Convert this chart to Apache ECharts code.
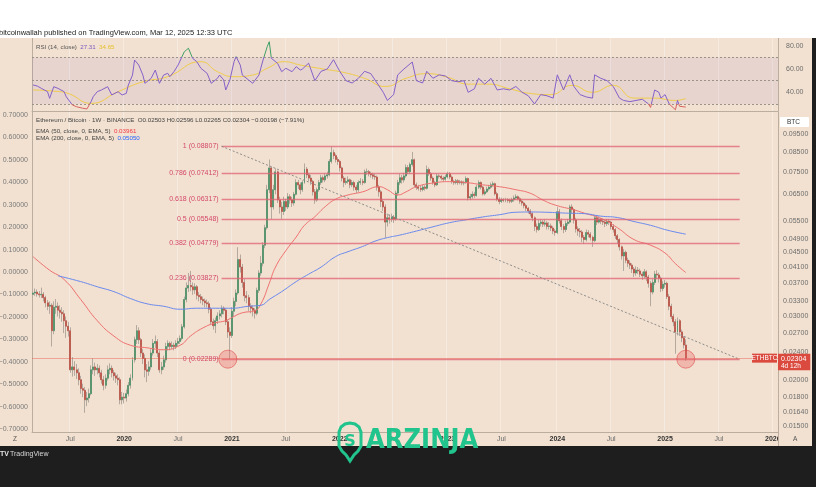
<!DOCTYPE html>
<html><head><meta charset="utf-8">
<script src="https://cdn.jsdelivr.net/npm/echarts@6/dist/echarts.min.js"></script>
<style>html,body{margin:0;padding:0;background:#fff;}#c{width:816px;height:487px;}</style>
</head><body><div id="c"></div>
<script>
// ---------- DATA (weekly ETH/BTC) ----------
const startWeek = '2019-02-25';
const totalWeeks = 360;           // 316 candles + empty future space
const firstOpen = 0.0345;
const closes = [
0.0348,0.0350,0.0346,0.0344,0.0345,0.0338,0.0327,0.0320,0.0322,0.0274,
0.0318,0.0320,0.0312,0.0308,0.0305,0.0292,0.0282,0.0274,0.0214,0.0218,
0.0214,0.0210,0.0201,0.0190,0.0188,0.0177,0.0179,0.0184,0.0214,0.0218,
0.0214,0.0216,0.0210,0.0201,0.0194,0.0203,0.0214,0.0216,0.0210,0.0206,
0.0203,0.0201,0.0177,0.0180,0.0179,0.0184,0.0194,0.0203,0.0228,0.0259,
0.0274,0.0259,0.0238,0.0230,0.0214,0.0212,0.0218,0.0238,0.0253,0.0256,
0.0238,0.0214,0.0218,0.0228,0.0248,0.0253,0.0248,0.0250,0.0248,0.0253,
0.0256,0.0261,0.0281,0.0334,0.0359,0.0365,0.0362,0.0355,0.0362,0.0343,
0.0340,0.0334,0.0331,0.0327,0.0325,0.0314,0.0290,0.0283,0.0292,0.0301,
0.0305,0.0316,0.0312,0.0290,0.0272,0.0266,0.0310,0.0330,0.0348,0.0430,
0.0410,0.0372,0.0342,0.0338,0.0320,0.0316,0.0312,0.0306,0.0354,0.0395,
0.0420,0.0471,0.0526,0.0669,0.0768,0.0600,0.0669,0.0749,0.0627,0.0600,
0.0583,0.0621,0.0600,0.0640,0.0627,0.0615,0.0650,0.0700,0.0690,0.0669,
0.0700,0.0762,0.0735,0.0720,0.0705,0.0660,0.0627,0.0669,0.0700,0.0722,
0.0712,0.0730,0.0735,0.0800,0.0846,0.0830,0.0810,0.0800,0.0768,0.0720,
0.0700,0.0705,0.0712,0.0690,0.0700,0.0680,0.0669,0.0700,0.0705,0.0700,
0.0749,0.0750,0.0740,0.0735,0.0728,0.0725,0.0680,0.0660,0.0621,0.0600,
0.0545,0.0560,0.0556,0.0562,0.0556,0.0655,0.0700,0.0722,0.0712,0.0730,
0.0770,0.0750,0.0785,0.0809,0.0690,0.0680,0.0675,0.0670,0.0680,0.0675,
0.0760,0.0740,0.0720,0.0700,0.0690,0.0730,0.0728,0.0720,0.0715,0.0725,
0.0740,0.0725,0.0705,0.0700,0.0708,0.0700,0.0703,0.0698,0.0700,0.0718,
0.0635,0.0640,0.0650,0.0645,0.0680,0.0700,0.0680,0.0652,0.0660,0.0672,
0.0680,0.0690,0.0695,0.0652,0.0630,0.0621,0.0628,0.0625,0.0628,0.0625,
0.0622,0.0628,0.0635,0.0640,0.0632,0.0622,0.0615,0.0605,0.0595,0.0585,
0.0575,0.0560,0.0530,0.0520,0.0540,0.0545,0.0538,0.0542,0.0530,0.0532,
0.0525,0.0515,0.0510,0.0582,0.0550,0.0530,0.0520,0.0540,0.0545,0.0600,
0.0590,0.0552,0.0522,0.0515,0.0512,0.0495,0.0488,0.0510,0.0505,0.0495,
0.0485,0.0560,0.0545,0.0555,0.0548,0.0545,0.0540,0.0548,0.0545,0.0530,
0.0520,0.0500,0.0488,0.0466,0.0440,0.0450,0.0428,0.0420,0.0415,0.0405,
0.0395,0.0402,0.0400,0.0392,0.0388,0.0398,0.0385,0.0370,0.0350,0.0372,
0.0392,0.0390,0.0382,0.0358,0.0368,0.0370,0.0340,0.0320,0.0300,0.0290,
0.0272,0.0292,0.0272,0.0262,0.02503,0.02304];
const highs = [
0.0356,0.0358,0.0356,0.0352,0.0360,0.0350,0.0342,0.0333,0.0330,0.0326,
0.0330,0.0335,0.0328,0.0322,0.0318,0.0312,0.0300,0.0290,0.0280,0.0232,
0.0226,0.0222,0.0216,0.0206,0.0196,0.0192,0.0186,0.0190,0.0220,0.0230,
0.0224,0.0222,0.0220,0.0214,0.0206,0.0208,0.0220,0.0223,0.0220,0.0214,
0.0210,0.0208,0.0204,0.0186,0.0185,0.0189,0.0198,0.0208,0.0232,0.0264,
0.0284,0.0280,0.0262,0.0244,0.0236,0.0222,0.0226,0.0244,0.0260,0.0266,
0.0260,0.0242,0.0225,0.0234,0.0254,0.0258,0.0256,0.0256,0.0254,0.0258,
0.0262,0.0266,0.0286,0.0340,0.0372,0.0395,0.0400,0.0372,0.0370,0.0366,
0.0350,0.0346,0.0340,0.0336,0.0334,0.0330,0.0318,0.0296,0.0298,0.0308,
0.0312,0.0322,0.0320,0.0316,0.0294,0.0280,0.0318,0.0338,0.0356,0.0465,
0.0444,0.0418,0.0380,0.0352,0.0344,0.0326,0.0322,0.0316,0.0360,0.0402,
0.0440,0.0480,0.0536,0.0690,0.0810,0.0775,0.0690,0.0765,0.0755,0.0640,
0.0620,0.0640,0.0632,0.0655,0.0650,0.0640,0.0660,0.0715,0.0712,0.0700,
0.0710,0.0790,0.0772,0.0745,0.0735,0.0712,0.0672,0.0678,0.0712,0.0735,
0.0732,0.0742,0.0750,0.0812,0.0881,0.0862,0.0840,0.0822,0.0808,0.0775,
0.0730,0.0722,0.0728,0.0718,0.0712,0.0708,0.0690,0.0710,0.0720,0.0716,
0.0760,0.0765,0.0758,0.0750,0.0745,0.0740,0.0732,0.0690,0.0668,0.0630,
0.0610,0.0575,0.0572,0.0575,0.0570,0.0665,0.0712,0.0740,0.0735,0.0745,
0.0785,0.0782,0.0795,0.0850,0.0815,0.0700,0.0690,0.0685,0.0690,0.0688,
0.0780,0.0770,0.0748,0.0728,0.0708,0.0740,0.0738,0.0735,0.0728,0.0735,
0.0750,0.0748,0.0732,0.0712,0.0716,0.0715,0.0712,0.0710,0.0708,0.0728,
0.0722,0.0652,0.0662,0.0660,0.0690,0.0710,0.0705,0.0685,0.0670,0.0682,
0.0690,0.0700,0.0705,0.0700,0.0660,0.0638,0.0636,0.0634,0.0636,0.0634,
0.0632,0.0636,0.0645,0.0650,0.0645,0.0638,0.0628,0.0620,0.0612,0.0600,
0.0592,0.0580,0.0565,0.0540,0.0552,0.0555,0.0552,0.0555,0.0548,0.0545,
0.0540,0.0532,0.0522,0.0600,0.0592,0.0558,0.0538,0.0550,0.0556,0.0608,
0.0610,0.0595,0.0560,0.0530,0.0525,0.0518,0.0502,0.0520,0.0518,0.0512,
0.0500,0.0570,0.0568,0.0565,0.0560,0.0558,0.0552,0.0556,0.0555,0.0550,
0.0538,0.0525,0.0505,0.0492,0.0470,0.0460,0.0455,0.0435,0.0428,0.0420,
0.0410,0.0412,0.0410,0.0406,0.0398,0.0405,0.0402,0.0390,0.0375,0.0380,
0.0400,0.0402,0.0396,0.0386,0.0376,0.0378,0.0374,0.0346,0.0325,0.0305,
0.0295,0.0298,0.0295,0.0276,0.0265,0.02596];
const lows = [
0.0338,0.0342,0.0340,0.0338,0.0337,0.0330,0.0318,0.0312,0.0305,0.0248,
0.0268,0.0305,0.0300,0.0296,0.0290,0.0270,0.0262,0.0264,0.0210,0.0205,
0.0206,0.0202,0.0194,0.0184,0.0180,0.0163,0.0170,0.0174,0.0182,0.0208,
0.0206,0.0208,0.0204,0.0196,0.0188,0.0190,0.0200,0.0208,0.0204,0.0200,
0.0197,0.0194,0.0172,0.0172,0.0173,0.0175,0.0181,0.0190,0.0200,0.0224,
0.0252,0.0252,0.0232,0.0222,0.0204,0.0198,0.0206,0.0214,0.0234,0.0246,
0.0232,0.0210,0.0208,0.0214,0.0224,0.0242,0.0242,0.0244,0.0242,0.0244,
0.0248,0.0252,0.0258,0.0278,0.0328,0.0350,0.0352,0.0344,0.0346,0.0334,
0.0330,0.0326,0.0322,0.0318,0.0318,0.0306,0.0284,0.0276,0.0270,0.0286,
0.0294,0.0298,0.0304,0.0284,0.0262,0.02289,0.0262,0.0300,0.0320,0.0344,
0.0396,0.0360,0.0330,0.0326,0.0310,0.0306,0.0300,0.0296,0.0302,0.0348,
0.0388,0.0412,0.0462,0.0520,0.0655,0.0556,0.0590,0.0650,0.0615,0.0575,
0.0556,0.0570,0.0585,0.0592,0.0612,0.0600,0.0605,0.0645,0.0672,0.0650,
0.0660,0.0695,0.0720,0.0705,0.0690,0.0645,0.0612,0.0620,0.0660,0.0690,
0.0700,0.0702,0.0718,0.0728,0.0790,0.0812,0.0795,0.0782,0.0750,0.0705,
0.0680,0.0690,0.0695,0.0675,0.0680,0.0665,0.0655,0.0660,0.0690,0.0688,
0.0695,0.0735,0.0728,0.0722,0.0715,0.0712,0.0665,0.0640,0.0600,0.0585,
0.0493,0.0530,0.0540,0.0545,0.0542,0.0550,0.0645,0.0690,0.0695,0.0700,
0.0722,0.0738,0.0740,0.0775,0.0680,0.0668,0.0665,0.0660,0.0662,0.0665,
0.0670,0.0730,0.0708,0.0690,0.0680,0.0685,0.0718,0.0710,0.0705,0.0708,
0.0718,0.0715,0.0695,0.0690,0.0692,0.0690,0.0692,0.0688,0.0688,0.0695,
0.0625,0.0626,0.0632,0.0635,0.0640,0.0672,0.0670,0.0645,0.0645,0.0655,
0.0665,0.0672,0.0682,0.0645,0.0622,0.0610,0.0615,0.0618,0.0618,0.0616,
0.0614,0.0615,0.0620,0.0628,0.0625,0.0612,0.0605,0.0595,0.0585,0.0575,
0.0565,0.0548,0.0515,0.0510,0.0515,0.0530,0.0528,0.0530,0.0520,0.0520,
0.0515,0.0505,0.0500,0.0505,0.0540,0.0518,0.0508,0.0512,0.0532,0.0540,
0.0575,0.0540,0.0510,0.0500,0.0495,0.0480,0.0475,0.0482,0.0495,0.0485,
0.0466,0.0480,0.0535,0.0540,0.0538,0.0535,0.0528,0.0532,0.0535,0.0520,
0.0510,0.0490,0.0475,0.0455,0.0430,0.0400,0.0420,0.0410,0.0405,0.0395,
0.0385,0.0388,0.0392,0.0385,0.0378,0.0382,0.0375,0.0360,0.0320,0.0345,
0.0366,0.0380,0.0372,0.0350,0.0352,0.0360,0.0335,0.0312,0.0295,0.0282,
0.0237,0.0266,0.0265,0.0255,0.0245,0.02265];

const ema50Weeks = [0,8,15,23,31,39,47,55,63,71,76,82,88,93,96,101,107,110,114,117,122,127,131,136,141,146,152,159,167,171,176,180,185,193,201,209,217,225,233,240,246,252,261,266,274,282,290,298,305,310,315];
const ema50Vals  = [0.0438,0.0402,0.0379,0.0334,0.0292,0.0265,0.0250,0.0246,0.0243,0.0250,0.0265,0.0279,0.0288,0.0292,0.0298,0.0307,0.0311,0.0325,0.0370,0.0410,0.0455,0.0496,0.0534,0.0564,0.0601,0.0630,0.0647,0.0660,0.0682,0.0669,0.0647,0.0660,0.0682,0.0698,0.0704,0.0700,0.0690,0.0682,0.0669,0.0654,0.0627,0.0607,0.0589,0.0577,0.0558,0.0526,0.0488,0.0471,0.0448,0.0419,0.03961];
const ema200Weeks = [12,23,31,39,47,55,63,71,79,90,96,104,110,114,120,127,133,139,146,152,159,165,171,177,185,193,201,209,217,225,233,240,248,257,266,274,282,290,298,306,315];
const ema200Vals  = [0.0388,0.0374,0.0362,0.0351,0.0336,0.0325,0.0320,0.0314,0.0316,0.0316,0.0316,0.0320,0.0322,0.0334,0.0351,0.0374,0.0392,0.0410,0.0438,0.0452,0.0467,0.0483,0.0494,0.0502,0.0515,0.0529,0.0543,0.0553,0.0563,0.0571,0.0580,0.0581,0.0580,0.0577,0.0575,0.0566,0.0561,0.0547,0.0534,0.0518,0.0505];

// RSI(14) and its moving average
const rsiWeeks = [0,2,4,7,8,10,12,15,16,19,21,24,26,28,29,31,33,36,38,41,43,45,46,48,49,51,53,54,56,57,59,61,63,65,66,68,70,73,74,75,77,79,81,84,86,89,90,92,93,95,97,98,100,101,104,106,109,111,113,114,115,118,120,122,125,127,129,
 130,133,136,139,142,145,148,151,154,157,160,163,166,169,171,174,176,179,183,185,188,190,193,196,199,202,205,208,210,213,215,218,221,224,227,230,233,236,239,242,245,248,251,253,256,259,261,264,267,270,271,274,277,280,283,285,288,291,294,297,298,300,302,303,305,307,310,311,312,315];
const rsiVals = [46.3,45.4,43.4,40.5,34.8,44.8,43.4,40.5,36.2,29.1,27.6,26.3,25.7,31.9,36.2,40.5,42,44.8,37.7,40.5,37.7,39.1,46.3,54.8,67.7,63.4,54.8,47.7,50.6,52,59.1,47.7,54.8,56.3,53.4,57.7,63.4,74.8,76.3,77.8,69.2,66.3,60.6,56.3,47.7,52,54.8,50.6,42,50.6,66.3,70.6,63.4,54.8,50.6,47.7,54.8,67.7,79.1,83.4,69.2,64.9,57.7,60.6,57.7,62,59.1,
 60,65,50,58,60,68,58,50,48,52,58,56,48,40,33,38,55,60,66,50,48,58,52,55,54,50,49,50,40,43,52,47,52,42,43,42,45,40,37,30,38,37,35,55,42,55,45,38,36,35,55,52,50,45,35,33,32,33,34,30,27,42,40,35,38,30,25,33,28,27.31];
const rsiMaWeeks = [0,10,17,28,41,53,65,81,89,97,106,113,121,129,140,150,160,170,180,190,200,210,220,230,240,250,260,270,280,290,300,310,315];
const rsiMaVals  = [42,41,39,30.5,40.5,49,53.4,66.3,57.7,53.4,54.8,60.6,66.3,63.4,60,57,52,45,52,56,53,47,47,43,39,38,46,40,46,35,35,33,34.65];

// Fibonacci retracement drawn on the chart
const fibRatios = ['1','0.786','0.618','0.5','0.382','0.236','0'];
const fibPrices = [0.08807,0.07412,0.06317,0.05548,0.04779,0.03827,0.02289];
const fibStartWeek = 91, fibEndWeek = 341;
const lastPrice = 0.02304;

// Axis tick labels
const priceTicks = [0.095,0.085,0.075,0.065,0.055,0.049,0.045,0.041,0.037,0.033,0.030,0.027,0.024,0.020,0.018,0.0164,0.015];
const leftTicks = [0.7,0.6,0.5,0.4,0.3,0.2,0.1,0,-0.1,-0.2,-0.3,-0.4,-0.5,-0.6,-0.7];
const rsiTicks = [40,60,80];

// ---------- BUILD ----------
const L = Math.log;
const FONT = '"Liberation Sans", Arial, sans-serif';
const BEIGE = '#f2e1d0';
const cats = [], tickLabel = [];
const t0 = Date.parse(startWeek + 'T00:00:00Z');
for (let i = 0; i < totalWeeks; i++) {
  const d = new Date(t0 + i * 7 * 864e5), e = new Date(t0 + (i * 7 + 6) * 864e5);
  cats.push(d.toISOString().slice(0, 10));
  let lab = '';
  if (e.getUTCDate() <= 7 && (e.getUTCMonth() === 0 || e.getUTCMonth() === 6))
    lab = e.getUTCMonth() === 0 ? String(e.getUTCFullYear()) : 'Jul';
  tickLabel.push(lab);
}
const wickData = [], bodyData = [];
for (let i = 0; i < closes.length; i++) {
  const o = i === 0 ? firstOpen : closes[i - 1], c = closes[i];
  wickData.push([L(o), L(c), L(lows[i]), L(highs[i])]);
  bodyData.push([L(o), L(c), L(Math.min(o, c)), L(Math.max(o, c))]);
}
const pairs = (w, v, f) => w.map((x, k) => [x, f ? f(v[k]) : v[k]]);

const yMin = L(0.014438), yMax = L(0.1094);
const sepColor = '#bcae9f';
const fibLineColor = 'rgba(224,96,112,0.75)';
const fibTextColor = '#d4486c';

const fibMarks = fibPrices.map((p, k) => [
  { coord: [fibStartWeek, L(p)], lineStyle: { color: fibLineColor, width: 1.3, type: 'solid' },
    label: { show: true, position: 'start', distance: 3, formatter: fibRatios[k] + ' (' + p.toFixed(5) + ')', color: fibTextColor, fontSize: 7, fontFamily: FONT } },
  { coord: [fibEndWeek, L(p)] }
]);
fibMarks.push([
  { coord: [fibStartWeek, L(fibPrices[0])], lineStyle: { color: '#8c8c8c', width: 1, type: [2, 2] }, label: { show: false } },
  { coord: [340, L(0.0230)] }
]);
fibMarks.push({ yAxis: L(lastPrice), lineStyle: { color: 'rgba(224,72,60,0.4)', width: 1, type: 'solid' },
  label: { show: true, position: 'end', distance: 0, offset: [0, 4], formatter: '{p|' + lastPrice.toFixed(5) + '}\n{t|4d 12h}',
    backgroundColor: '#db4a3e', padding: [1, 4, 1, 3], fontFamily: FONT,
    rich: { p: { color: '#fff', fontSize: 7, lineHeight: 7.5, fontFamily: FONT }, t: { color: '#fff', fontSize: 6.5, lineHeight: 7, fontFamily: FONT } } } });

const xBase = (gi, show) => ({
  type: 'category', gridIndex: gi, data: cats, boundaryGap: true,
  axisLine: { show: true, onZero: false, lineStyle: { color: sepColor, width: 1 } },
  axisTick: { show: false },
  axisLabel: show ? {
    interval: (i) => tickLabel[i] !== '', margin: 4, fontFamily: FONT,
    formatter: (v, i) => tickLabel[i] === 'Jul' ? '{m|Jul}' : '{y|' + tickLabel[i] + '}',
    rich: { m: { color: '#6b6b6b', fontSize: 7, fontFamily: FONT }, y: { color: '#333', fontSize: 7, fontWeight: 'bold', fontFamily: FONT } }
  } : { show: false },
  splitLine: { show: true, interval: (i) => tickLabel[i] !== '', lineStyle: { color: 'rgba(255,255,255,0.35)', width: 1 } }
});

const small = (fill) => ({ fill, font: '6.2px ' + FONT });
const option = {
  animation: false,
  backgroundColor: BEIGE,
  grid: [
    { left: 32, right: 38, top: 112, bottom: 55, outerBoundsMode: 'none', containLabel: false },
    { left: 32, right: 38, top: 38, height: 73, outerBoundsMode: 'none', containLabel: false }
  ],
  xAxis: [xBase(0, true), xBase(1, false)],
  yAxis: [
    { type: 'value', gridIndex: 0, position: 'right', min: yMin, max: yMax,
      axisLine: { show: true, lineStyle: { color: sepColor } }, axisTick: { show: false }, splitLine: { show: false },
      axisLabel: { customValues: priceTicks.map(L), formatter: (v) => Math.exp(v).toFixed(5), color: '#6e6e6e', fontSize: 7, margin: 5, fontFamily: FONT } },
    { type: 'value', gridIndex: 0, position: 'left', min: -0.7134, max: 0.7134,
      axisLine: { show: true, onZero: false, lineStyle: { color: sepColor } }, axisTick: { show: false }, splitLine: { show: false },
      axisLabel: { customValues: leftTicks, formatter: (v) => (v < -1e-9 ? '\u2212' : '') + Math.abs(v).toFixed(5), color: '#7a7a7a', fontSize: 7, margin: 4, fontFamily: FONT } },
    { type: 'value', gridIndex: 1, position: 'right', min: 23.95, max: 86.6,
      axisLine: { show: true, lineStyle: { color: sepColor } }, axisTick: { show: false }, splitLine: { show: false },
      axisLabel: { customValues: rsiTicks, formatter: (v) => v.toFixed(2), color: '#6e6e6e', fontSize: 7, margin: 8, fontFamily: FONT } },
    { type: 'value', gridIndex: 1, position: 'left', min: 23.95, max: 86.6,
      axisLine: { show: true, lineStyle: { color: sepColor } }, axisTick: { show: false }, splitLine: { show: false }, axisLabel: { show: false } }
  ],
  visualMap: [{ type: 'piecewise', show: false, seriesIndex: 5, dimension: 1,
    pieces: [{ lt: 30, color: '#d8625c' }, { gte: 30, lte: 70, color: '#8560c8' }, { gt: 70, color: '#3e9e64' }] }],
  series: [
    { type: 'candlestick', name: 'wick', xAxisIndex: 0, yAxisIndex: 0, data: wickData, barWidth: '72%',
      itemStyle: { color: 'rgba(0,0,0,0)', color0: 'rgba(0,0,0,0)', borderColor: '#b3a99f', borderColor0: '#b3a99f', borderWidth: 1 }, z: 2 },
    { type: 'candlestick', name: 'body', xAxisIndex: 0, yAxisIndex: 0, data: bodyData, barWidth: '72%',
      itemStyle: { color: '#3f9063', color0: '#c0473b', borderColor: '#3f9063', borderColor0: '#c0473b', borderWidth: 0.5 }, z: 3,
      markLine: { silent: true, symbol: ['none', 'none'], animation: false, data: fibMarks } },
    { type: 'line', name: 'EMA50', xAxisIndex: 0, yAxisIndex: 0, data: pairs(ema50Weeks, ema50Vals, L), smooth: true, symbol: 'none',
      lineStyle: { color: '#ef7070', width: 1 }, z: 4 },
    { type: 'line', name: 'EMA200', xAxisIndex: 0, yAxisIndex: 0, data: pairs(ema200Weeks, ema200Vals, L), smooth: true, symbol: 'none',
      lineStyle: { color: '#6a89ef', width: 1 }, z: 4 },
    { type: 'scatter', name: 'marks', xAxisIndex: 0, yAxisIndex: 0, data: [[94, L(fibPrices[6])], [315, L(fibPrices[6])]],
      symbolSize: 18, itemStyle: { color: 'rgba(236,100,100,0.42)', borderColor: 'rgba(220,70,70,0.7)', borderWidth: 1 }, z: 6,
      markPoint: { silent: true, animation: false, data: [{ coord: [353, L(lastPrice)], symbol: 'rect', symbolSize: [25, 9],
        itemStyle: { color: '#db4a3e' }, label: { show: true, position: 'inside', formatter: 'ETHBTC', color: '#fff', fontSize: 6.5, fontFamily: FONT } }] } },
    { type: 'line', name: 'RSI', xAxisIndex: 1, yAxisIndex: 2, data: pairs(rsiWeeks, rsiVals), symbol: 'none',
      lineStyle: { width: 1 }, z: 5,
      markArea: { silent: true, data: [[{ yAxis: 70 }, { yAxis: 30 }]], itemStyle: { color: 'rgba(126,87,194,0.09)' } },
      markLine: { silent: true, symbol: ['none', 'none'], label: { show: false },
        lineStyle: { color: '#9b928a', type: [2, 2], width: 1 }, data: [{ yAxis: 70 }, { yAxis: 50 }, { yAxis: 30 }] } },
    { type: 'line', name: 'RSI MA', xAxisIndex: 1, yAxisIndex: 2, data: pairs(rsiMaWeeks, rsiMaVals), smooth: true, symbol: 'none',
      lineStyle: { color: '#f0cc4a', width: 1 }, z: 4 }
  ],
  graphic: [
    { type: 'rect', shape: { x: 0, y: 0, width: 816, height: 38 }, style: { fill: '#ffffff' }, z: 10 },
    { type: 'text', x: -1, y: 29, style: { text: 'bitcoinwallah published on TradingView.com, Mar 12, 2025 12:33 UTC', fill: '#222', font: '7.5px ' + FONT }, z: 11 },
    // hide the part of the time-axis labels that falls under the price scale
    { type: 'rect', shape: { x: 779, y: 433, width: 34, height: 13 }, style: { fill: BEIGE }, z: 9 },
    { type: 'line', shape: { x1: 778.5, y1: 432, x2: 778.5, y2: 446 }, style: { stroke: sepColor, lineWidth: 1 }, z: 9 },
    { type: 'rect', shape: { x: 812, y: 38, width: 4, height: 449 }, style: { fill: '#1e1e1e' }, z: 10 },
    { type: 'rect', shape: { x: 0, y: 446, width: 816, height: 41 }, style: { fill: '#1e1e1e' }, z: 10 },
    { type: 'text', x: 0, y: 451, style: { text: 'TV', fill: '#e6e6e6', font: 'bold 7px ' + FONT }, z: 11 },
    { type: 'text', x: 10, y: 451, style: { text: 'TradingView', fill: '#d8d8d8', font: '7px ' + FONT }, z: 11 },
    { type: 'text', x: 36, y: 41, style: { rich: { a: small('#555'), b: small('#7e57c2'), c: small('#e5bf2a') },
      text: '{a|RSI (14, close)} {b|27.31} {c|34.65}' }, z: 11 },
    { type: 'text', x: 36, y: 117.5, style: { rich: { a: small('#444') },
      text: '{a|Ethereum / Bitcoin · 1W · BINANCE  O0.02503 H0.02596 L0.02265 C0.02304 \u22120.00198 (\u22127.91%)}' }, z: 11 },
    { type: 'text', x: 36, y: 125, style: { rich: { a: small('#444'), r: small('#f23645') },
      text: '{a|EMA (50, close, 0, EMA, 5)} {r|0.03961}' }, z: 11 },
    { type: 'text', x: 36, y: 132.5, style: { rich: { a: small('#444'), r: small('#2962ff') },
      text: '{a|EMA (200, close, 0, EMA, 5)} {r|0.05050}' }, z: 11 },
    { type: 'rect', shape: { x: 780, y: 117, width: 29, height: 10, r: 1 }, style: { fill: '#ffffff' }, z: 11 },
    { type: 'text', x: 787, y: 119, style: { text: 'BTC', fill: '#333', font: '6.5px ' + FONT }, z: 12 },
    { type: 'text', x: 13, y: 436, style: { text: 'Z', fill: '#555', font: '6.5px ' + FONT }, z: 11 },
    { type: 'text', x: 793, y: 436, style: { text: 'A', fill: '#555', font: '6.5px ' + FONT }, z: 11 },
    // ARZINJA logo
    { type: 'polygon', shape: { points: [[350,423],[345,424],[341,427],[339,432],[339,446],[342,451],[346,455],[350,461],[354,455],[358,451],[361,446],[361,432],[359,427],[355,424]] },
      style: { fill: 'none', stroke: '#21c48c', lineWidth: 3 }, z: 20 },
    { type: 'text', x: 350, y: 442, style: { text: 'S', fill: '#21c48c', font: 'bold 16px "DejaVu Sans"', textAlign: 'center', textVerticalAlign: 'middle' }, z: 20 },
    { type: 'text', x: 366, y: 441, style: { text: 'ARZINJA', fill: '#21c48c', font: 'bold 27px "DejaVu Sans Condensed", "DejaVu Sans"', textVerticalAlign: 'middle' }, z: 20 }
  ]
};
const chart = echarts.init(document.getElementById('c'));
chart.setOption(option);
</script></body></html>
